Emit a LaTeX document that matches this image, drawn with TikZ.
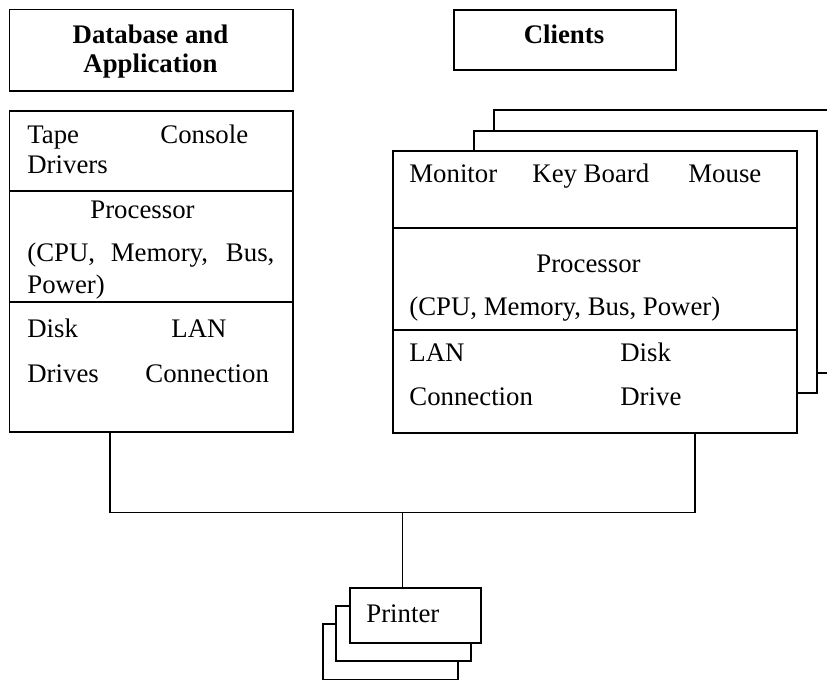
\documentclass[tikz,border=0pt]{standalone}
\usepackage{fontspec}
\setmainfont{Liberation Serif}
\tikzset{
  box/.style={draw, line width=0.75pt, fill=white, inner sep=0pt, anchor=north west},
  wire/.style={line width=0.7pt},
  txt/.style={anchor=base west, inner sep=0pt, font=\fontsize{13.4}{15}\selectfont},
  head/.style={anchor=base, inner sep=0pt, font=\fontsize{13.4}{15}\selectfont\bfseries}
}
\begin{document}
\begin{tikzpicture}[x=0.5pt, y=-0.5pt]
            \useasboundingbox (0,0) rectangle (827,680);
            \clip (0,0) rectangle (827,680);
            %titoli
            \node[box, minimum width=141.5pt, minimum height=40.5pt] (dbtitle) at (9,9) {};
            \node[box, minimum width=111pt, minimum height=30pt] (cltitle) at (453,9) {};
            \node[head] (dbhead1) at (150.5,43) {Database and};
            \node[head] (dbhead2) at (150.5,72) {Application};
            \node[head] (clhead) at (564,43) {Clients};
            %server
            \node[box, minimum width=141.5pt, minimum height=160.5pt] (dbbox) at (9,110) {};
            \draw[wire] (dbbox.west |- 0,191) -- (dbbox.east |- 0,191);
            \draw[wire] (dbbox.west |- 0,302) -- (dbbox.east |- 0,302);
            %client
            \node[box, minimum width=180pt, minimum height=131.5pt] (clback2) at (493,109) {};
            \node[box, minimum width=171.5pt, minimum height=131pt] (clback1) at (473,130) {};
            \node[box, minimum width=202pt, minimum height=141pt] (clbox) at (392,150) {};
            \draw[wire] (clbox.west |- 0,228) -- (clbox.east |- 0,228);
            \draw[wire] (clbox.west |- 0,330) -- (clbox.east |- 0,330);
            %stampanti
            \node[box, minimum width=67.5pt, minimum height=28pt] (prback2) at (322,623) {};
            \node[box, minimum width=67.5pt, minimum height=27.5pt] (prback1) at (335,605) {};
            \node[box, minimum width=65.5pt, minimum height=27.5pt] (printer) at (349,587) {};
            %etichette
            \node[txt] (tape) at (27,143) {Tape};
            \node[txt] (console) at (160,143) {Console};
            \node[txt] (drivers) at (27,173) {Drivers};
            \node[txt] (dbproc) at (90,219) {Processor};
            \node[txt] (dbcpu) at (27,262) {\makebox[123.5pt][s]{(CPU, Memory, Bus,}};
            \node[txt] (dbpower) at (27,293) {Power)};
            \node[txt] (dbdisk) at (27,337) {Disk};
            \node[txt] (dblan) at (171,337) {LAN};
            \node[txt] (dbdrives) at (27,382) {Drives};
            \node[txt] (dbconn) at (145,382) {Connection};
            \node[txt] (monitor) at (409,183) {Monitor};
            \node[txt] (keyboard) at (532,183) {Key Board};
            \node[txt] (mouse) at (688,183) {Mouse};
            \node[txt] (clproc) at (536,272) {Processor};
            \node[txt] (clcpu) at (409,315) {(CPU, Memory, Bus, Power)};
            \node[txt] (cllan) at (409,361) {LAN};
            \node[txt] (cldisk) at (620,361) {Disk};
            \node[txt] (clconn) at (409,405) {Connection};
            \node[txt] (cldrive) at (620,405) {Drive};
            \node[txt] (prlabel) at (366,622) {Printer};
            %collegamenti
            \coordinate (dbport) at (dbbox.south -| 110,0);
            \coordinate (clport) at (clbox.south -| 695,0);
            \coordinate (bus) at (402.5,512.6);
            \draw[wire] (dbport) |- (bus) -| (clport);
            \draw[wire] (bus) -- (bus |- printer.north);
        \end{tikzpicture}
\end{document}
